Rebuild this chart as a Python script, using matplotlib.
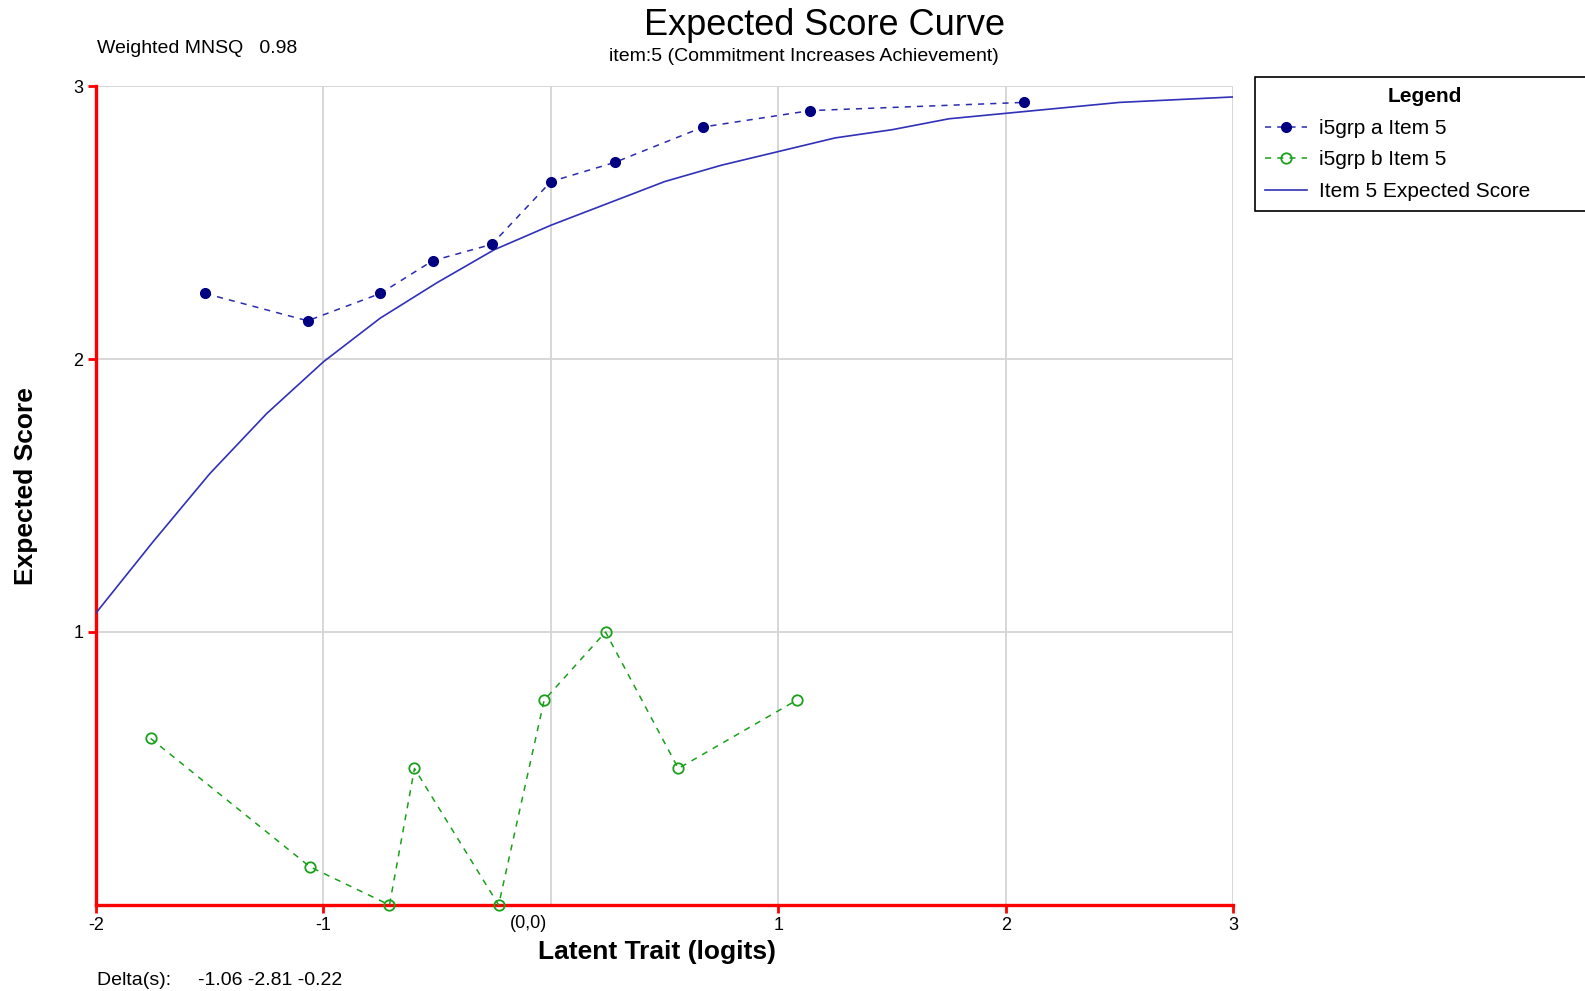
"""Expected score curve for item 5, two groups plus model curve."""

import matplotlib
matplotlib.use("Agg")
import matplotlib.pyplot as plt

plt.rcParams["font.family"] = ["Liberation Sans", "DejaVu Sans"]

grp_a_x = [-1.52, -1.07, -0.75, -0.52, -0.26, 0.00, 0.28, 0.67, 1.14, 2.08]
grp_a_y = [2.24, 2.14, 2.24, 2.36, 2.42, 2.65, 2.72, 2.85, 2.91, 2.94]

grp_b_x = [-1.76, -1.06, -0.71, -0.60, -0.23, -0.03, 0.24, 0.56, 1.08]
grp_b_y = [0.61, 0.14, 0.00, 0.50, 0.00, 0.75, 1.00, 0.50, 0.75]

# model expected score curve
curve_x = [-2.0, -1.75, -1.5, -1.25, -1.0, -0.75, -0.5, -0.25, 0.0, 0.25, 0.5,
           0.75, 1.0, 1.25, 1.5, 1.75, 2.0, 2.25, 2.5, 2.75, 3.0]
curve_y = [1.07, 1.33, 1.58, 1.80, 1.99, 2.15, 2.28, 2.40, 2.49, 2.57, 2.65,
           2.71, 2.76, 2.81, 2.84, 2.88, 2.90, 2.92, 2.94, 2.95, 2.96]

xticks = [-2, -1, 1, 2, 3]
yticks = [1, 2, 3]

RED = "#ff0000"
GRID = "#d4d4d4"

fig = plt.figure(figsize=(15.85, 9.91), dpi=100)
ax = fig.add_axes([0.0606, 0.0868, 0.7175, 0.8264])

ax.plot(grp_a_x, grp_a_y, ls=(0, (4, 4)), lw=1.1, color="#2a2ab0",
        marker="o", ms=7, mfc="#000080", mec="#000080",
        label="i5grp a Item 5", clip_on=False, zorder=4)
ax.plot(grp_b_x, grp_b_y, ls=(0, (4, 4)), lw=1.1, color="#1aa01a",
        marker="o", ms=7.5, mfc="none", mec="#1aa01a", mew=1.3,
        label="i5grp b Item 5", clip_on=False, zorder=4)
ax.plot(curve_x, curve_y, lw=1.2, color="#3030b8",
        label="Item 5 Expected Score", zorder=3)

ax.set_xlim(-2, 3)
ax.set_ylim(0, 3)
ax.set_xticks(xticks)
ax.set_yticks(yticks)
ax.set_xticks([0], minor=True)
ax.set_xticklabels([str(t) for t in xticks])
ax.set_yticklabels([str(t) for t in yticks])
ax.tick_params(axis="both", which="major", color=RED, width=2, length=6,
               labelsize=13, pad=3)
ax.tick_params(axis="x", which="minor", length=0)
ax.grid(True, which="both", color=GRID, lw=1.3)
ax.set_axisbelow(True)

for side in ("top", "right"):
    ax.spines[side].set_visible(False)
for side in ("left", "bottom"):
    ax.spines[side].set_color(RED)
    ax.spines[side].set_linewidth(2.4)

ax.annotate("(0,0)", xy=(0, 0), xycoords="data", xytext=(-3, -7),
            textcoords="offset points", ha="right", va="top", fontsize=13)

ax.set_xlabel("Latent Trait (logits)", fontsize=19, fontweight="bold")
ax.set_ylabel("Expected Score", fontsize=19, fontweight="bold")
ax.xaxis.set_label_coords(0.493, -0.057)
ax.yaxis.set_label_coords(-0.062, 0.512)
ax.xaxis.label.set_va("center")
ax.yaxis.label.set_va("center")

fig.text(0.52, 0.974, "Expected Score Curve", ha="center", va="center", fontsize=26)
fig.text(0.507, 0.943, "item:5 (Commitment Increases Achievement)", ha="center",
         va="center", fontsize=14)
fig.text(0.061, 0.951, "Weighted MNSQ   0.98", ha="left", va="center", fontsize=14)
fig.text(0.061, 0.011, "Delta(s):     -1.06 -2.81 -0.22", ha="left", va="center",
         fontsize=14)

leg = ax.legend(loc="upper left", bbox_to_anchor=(0.7915, 0.9224, 0.215, 0.0),
                bbox_transform=fig.transFigure, mode="expand", borderaxespad=0,
                title="Legend", fontsize=15,
                title_fontproperties={"weight": "bold", "size": 15},
                frameon=True, fancybox=False, edgecolor="black", framealpha=1,
                handlelength=2.0, handletextpad=0.6, borderpad=0.5,
                labelspacing=0.6)
leg.get_frame().set_linewidth(1.2)

fig.savefig("out.png", dpi=100)
